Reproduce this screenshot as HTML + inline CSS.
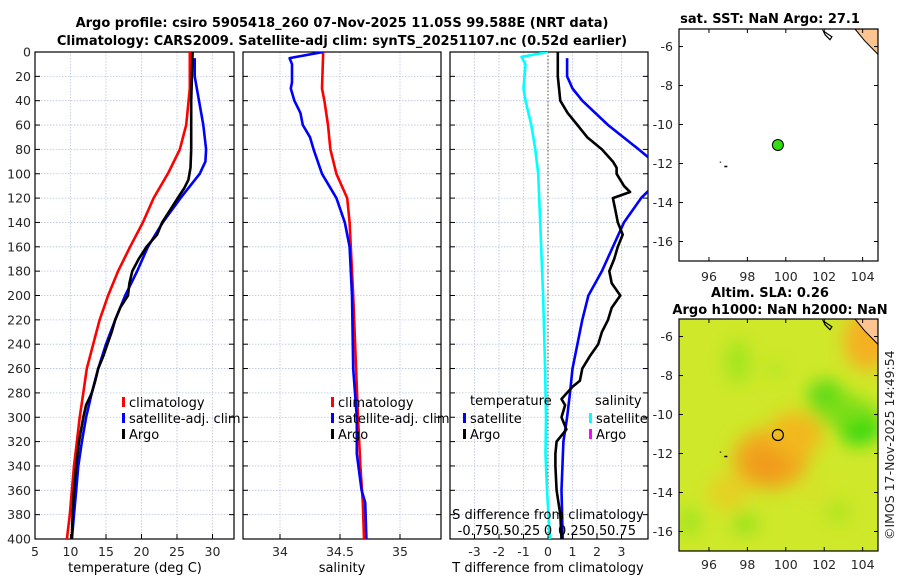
<!DOCTYPE html>
<html><head><meta charset="utf-8">
<style>
html,body{margin:0;padding:0;background:#fff;}
svg{display:block;font-family:"DejaVu Sans","Liberation Sans",sans-serif;}
.tk{font-size:12.5px;fill:#262626;}
.ttl{font-size:13px;font-weight:bold;fill:#000;}
.lg{font-size:13px;fill:#000;}
</style></head>
<body>
<svg id="fig" width="900" height="580" viewBox="0 0 900 580" xmlns="http://www.w3.org/2000/svg">
<text class="ttl" x="342" y="27" text-anchor="middle">Argo profile: csiro 5905418_260 07-Nov-2025 11.05S 99.588E (NRT data)</text>
<text class="ttl" x="342" y="45" text-anchor="middle">Climatology: CARS2009. Satellite-adj clim: synTS_20251107.nc (0.52d earlier)</text>
<g id="maps"></g>
<g id="plots"></g>
<text class="tk" transform="translate(894,540) rotate(-90)">©IMOS 17-Nov-2025 14:49:54</text>
</svg>
<script>
// ---------- data ----------
const depthAxisTicks = [0,20,40,60,80,100,120,140,160,180,200,220,240,260,280,300,320,340,360,380,400];
const tempTicks = [5,10,15,20,25,30];
const salTicks = [34,34.5,35];
const tdiffTicks = [-3,-2,-1,0,1,2,3];
const sdiffTickLabels = ["-0.75","-0.5","-0.25","0","0.25","0.5","0.75"];
const sdiffTicks = [-0.75,-0.5,-0.25,0,0.25,0.5,0.75];

const climDepth = [0,30,60,80,99,120,140,160,180,200,220,240,260,280,300,320,340,360,380,400];
const climTemp  = [26.8,26.8,26.3,25.4,23.8,21.7,20.2,18.4,16.7,15.3,14.1,13.2,12.3,11.8,11.3,10.9,10.5,10.2,9.9,9.5];

const satDepth = [5,20,40,60,80,90,100,120,140,160,180,200,220,240,260,280,300,320,340,360,380,400];
const satTemp  = [27.5,27.5,28.1,28.7,29.1,29.0,28.2,25.5,23.0,20.9,19.4,17.7,16.3,15.0,13.9,13.0,12.2,11.6,11.1,10.8,10.5,10.2];

const argoDepth = [0,20,40,60,80,95,105,112,120,130,140,150,160,170,180,190,200,210,220,230,240,250,260,270,280,290,300,320,340,360,380,400];
const argoTemp  = [27.2,27.1,27.0,27.0,27.0,26.9,26.6,26.0,25.1,24.0,22.9,22.2,20.7,19.6,18.7,18.3,18.1,17.0,16.3,15.8,15.2,14.6,13.9,13.5,13.0,12.2,11.8,11.2,10.8,10.5,10.3,10.2];

const climSalDepth = [0,30,40,60,80,100,120,140,160,200,250,300,340,370,400];
const climSal      = [34.36,34.35,34.37,34.40,34.42,34.47,34.56,34.58,34.59,34.61,34.63,34.65,34.67,34.69,34.70];
const satSalDepth  = [0,5,10,25,30,40,50,60,70,80,100,120,140,160,200,260,300,330,360,370,400];
const satSal       = [34.36,34.08,34.10,34.10,34.09,34.12,34.17,34.19,34.25,34.28,34.35,34.47,34.54,34.58,34.60,34.61,34.64,34.64,34.68,34.71,34.72];

const sdiffDepth = [0,4,10,20,30,40,50,60,80,100,140,200,260,300,330,360,400];
const sdiffSat   = [0,-0.27,-0.23,-0.24,-0.25,-0.23,-0.20,-0.17,-0.13,-0.10,-0.08,-0.05,-0.03,-0.02,-0.025,-0.01,0.02];

const tdiffSatDepth = [5,20,30,40,60,80,90,100,110,120,140,160,180,200,220,240,260,280,300,320,360,400];
const tdiffSat      = [0.78,0.78,1.0,1.4,2.45,3.7,4.3,4.4,4.3,3.8,3.1,2.65,2.2,1.65,1.4,1.2,1.0,0.9,0.78,0.63,0.55,0.6];

const tdiffArgoDepth = [0,20,40,50,60,70,80,90,95,100,110,115,120,130,140,150,160,170,180,190,200,210,220,230,240,250,260,270,275,285,290,300,310,320,330,340,360,380,400];
const tdiffArgo      = [0.4,0.4,0.5,0.8,1.2,1.6,2.2,2.65,2.8,2.8,3.1,3.35,2.65,2.75,2.85,3.05,2.85,2.7,2.5,2.6,2.95,2.6,2.45,2.2,2.05,1.7,1.4,1.3,1.0,0.55,0.7,0.55,0.75,0.35,0.3,0.3,0.35,0.5,0.55];

const lonTicks = [96,98,100,102,104];
const latTicks = [-6,-8,-10,-12,-14,-16];
const argoLon = 99.588, argoLat = -11.05;

// ---------- helpers ----------
const NS = "http://www.w3.org/2000/svg";
function mk(tag, attrs, parent){const e=document.createElementNS(NS,tag);for(const k in attrs)e.setAttribute(k,attrs[k]);parent.appendChild(e);return e;}
const plots = document.getElementById('plots');
const maps = document.getElementById('maps');
const Y0=52, Y1=539;
const dY = d => Y0 + d*(Y1-Y0)/400;

function panel(id, x0, x1, xmin, xmax, xticks, xlabels, ylabelsOn){
  const g = mk('g',{},plots);
  
  
  const sx = v => x0 + (v-xmin)*(x1-x0)/(xmax-xmin);
  const clipId = id+'-clip';
  const cp = mk('clipPath',{id:clipId},g);
  mk('rect',{x:x0,y:Y0,width:x1-x0,height:Y1-Y0},cp);
  // grid
  xticks.forEach(t=>{
    const l = mk('line',{x1:sx(t),x2:sx(t),y1:Y0,y2:Y1,stroke:'#b8c4e0','stroke-width':0.8,'stroke-dasharray':'1.5,1.5'},g);
    
    
  });
  depthAxisTicks.forEach(d=>{
    const l = mk('line',{x1:x0,x2:x1,y1:dY(d),y2:dY(d),stroke:'#b8c4e0','stroke-width':0.8,'stroke-dasharray':'1.5,1.5'},g);
    
    
    const t1 = mk('line',{x1:x0,x2:x0+5,y1:dY(d),y2:dY(d),stroke:'#000'},g);
    
    
    const t2 = mk('line',{x1:x1-5,x2:x1,y1:dY(d),y2:dY(d),stroke:'#000'},g);
    
    
    if(ylabelsOn){
      const tx = mk('text',{x:x0-4,y:dY(d)+4.5,'text-anchor':'end',class:'tk'},g);
      tx.textContent = d;
      
      
    }
  });
  xticks.forEach((t,i)=>{
    const tm = mk('line',{x1:sx(t),x2:sx(t),y1:Y1-5,y2:Y1,stroke:'#000'},g);
    
    
    const tx = mk('text',{x:sx(t),y:556,'text-anchor':'middle',class:'tk'},g);
    tx.textContent = xlabels[i];
    
    
  });
  const fr = mk('rect',{x:x0,y:Y0,width:x1-x0,height:Y1-Y0,fill:'none',stroke:'#000','stroke-width':1.2},g);
  
  
  return {g, sx, clip:'url(#'+clipId+')'};
}
function series(P, depths, vals, color, name, sxf){
  const f = sxf || P.sx;
  const pts = depths.map((d,i)=>f(vals[i]).toFixed(1)+','+dY(d).toFixed(1)).join(' ');
  const pl = mk('polyline',{points:pts,fill:'none',stroke:color,'stroke-width':2.6,'stroke-linejoin':'round','clip-path':P.clip},P.g);
  
  
}
function legend(g, x, y, color, label, name){
  const b = mk('rect',{x:x,y:y-8,width:3,height:10,fill:color},g);
  
  
  const t = mk('text',{x:x+7,y:y+2,class:'lg'},g);
  t.textContent = label;
  
  
}
function xlabel(text, x, name){
  const t = mk('text',{x:x,y:572,'text-anchor':'middle',class:'lg'},plots);
  t.textContent = text;
  
  
}

// ---------- panel 1: temperature ----------
const P1 = panel('temperature', 35, 234, 5, 5+199/7.1, tempTicks, tempTicks, true);
series(P1, climDepth, climTemp, '#ff0000', 'climatology-temperature-line');
series(P1, satDepth, satTemp, '#0000ff', 'satellite-temperature-line');
series(P1, argoDepth, argoTemp, '#000000', 'argo-temperature-line');
legend(P1.g, 122, 405, '#ff0000', 'climatology', 'legend-climatology');
legend(P1.g, 122, 421, '#0000ff', 'satellite-adj. clim', 'legend-satellite');
legend(P1.g, 122, 437, '#000000', 'Argo', 'legend-argo');
xlabel('temperature (deg C)', 135, 'temperature-x-axis-title');

// ---------- panel 2: salinity ----------
const P2 = panel('salinity', 243, 441, 34-37/120, 34+161/120, salTicks, ['34','34.5','35'], false);
series(P2, climSalDepth, climSal, '#ff0000', 'climatology-salinity-line');
series(P2, satSalDepth, satSal, '#0000ff', 'satellite-salinity-line');
legend(P2.g, 331, 405, '#ff0000', 'climatology', 'legend-climatology-sal');
legend(P2.g, 331, 421, '#0000ff', 'satellite-adj. clim', 'legend-satellite-sal');
legend(P2.g, 331, 437, '#000000', 'Argo', 'legend-argo-sal');
xlabel('salinity', 342, 'salinity-x-axis-title');

// ---------- panel 3: differences ----------
const P3 = panel('difference', 450, 648, -98/24.5, 100/24.5, tdiffTicks, tdiffTicks, false);
const sxS = v => 548 + v*98;
const zl = mk('line',{x1:548,x2:548,y1:Y0,y2:Y1,stroke:'#6b4a2a','stroke-width':1,'stroke-dasharray':'1.5,2'},P3.g);


series(P3, sdiffDepth, sdiffSat, '#00ffff', 'salinity-satellite-diff-line', sxS);
series(P3, tdiffSatDepth, tdiffSat, '#0000ff', 'temperature-satellite-diff-line');
series(P3, tdiffArgoDepth, tdiffArgo, '#000000', 'temperature-argo-diff-line');
const lt1 = mk('text',{x:470,y:405,class:'lg'},P3.g);
lt1.textContent='temperature';


const lt2 = mk('text',{x:595,y:405,class:'lg'},P3.g);
lt2.textContent='salinity';


legend(P3.g, 463, 421, '#0000ff', 'satellite', 'legend-t-satellite');
legend(P3.g, 463, 437, '#000000', 'Argo', 'legend-t-argo');
legend(P3.g, 589, 421, '#00ffff', 'satellite', 'legend-s-satellite');
legend(P3.g, 589, 437, '#ff00ff', 'Argo', 'legend-s-argo');
const st = mk('text',{x:548,y:519,'text-anchor':'middle',class:'lg'},P3.g);
st.textContent='S difference from climatology';


sdiffTicks.forEach((v,i)=>{
  const t = mk('text',{x:sxS(v),y:535,'text-anchor':'middle',class:'lg'},P3.g);
  t.textContent = sdiffTickLabels[i];
  
  
});
xlabel('T difference from climatology', 548, 't-diff-x-axis-title');

// ---------- maps ----------
const MX0=679, MX1=878, LON0=94.44, LON1=104.8;
const mx = lon => MX0 + (lon-LON0)*(MX1-MX0)/(LON1-LON0);
function mapAxes(name, top, bottom, title, labelY){
  const g = mk('g',{},maps);
  
  
  const LAT0=-5.1, LAT1=-17.0;
  const my = lat => top + (lat-LAT0)*(bottom-top)/(LAT1-LAT0);
  return {g, my, top, bottom};
}
function mapFrame(M, labelY){
  const g=M.g;
  lonTicks.forEach(l=>{
    const a = mk('line',{x1:mx(l),x2:mx(l),y1:M.bottom-4,y2:M.bottom,stroke:'#000'},g);
    
    
    const b = mk('line',{x1:mx(l),x2:mx(l),y1:M.top,y2:M.top+4,stroke:'#000'},g);
    
    
    const t = mk('text',{x:mx(l),y:labelY,'text-anchor':'middle',class:'tk'},g);
    t.textContent = l;
    
    
  });
  latTicks.forEach(l=>{
    const a = mk('line',{x1:MX0,x2:MX0+4,y1:M.my(l),y2:M.my(l),stroke:'#000'},g);
    
    
    const b = mk('line',{x1:MX1-4,x2:MX1,y1:M.my(l),y2:M.my(l),stroke:'#000'},g);
    
    
    const t = mk('text',{x:MX0-6,y:M.my(l)+4.5,'text-anchor':'end',class:'tk'},g);
    t.textContent = l;
    
    
  });
  const fr = mk('rect',{x:MX0,y:M.top,width:MX1-MX0,height:M.bottom-M.top,fill:'none',stroke:'#000','stroke-width':1.2},g);
  
  
}
function coast(M){
  const g=M.g;
  const land = mk('path',{d:`M${mx(103.6)},${M.top} L${MX1},${M.top} L${MX1},${M.my(-6.4)} L${mx(104.5)},${M.my(-6.1)} L${mx(104.1)},${M.my(-5.7)} Z`,fill:'#fbc490',stroke:'#000','stroke-width':1},g);
  
  
  const isl = mk('path',{d:`M${mx(101.95)},${M.my(-5.2)} L${mx(102.4)},${M.my(-5.5)} L${mx(102.3)},${M.my(-5.65)} L${mx(102.05)},${M.my(-5.4)} Z`,fill:'none',stroke:'#000','stroke-width':1.2},g);
  
  
  const ck = mk('path',{d:`M${mx(96.6)},${M.my(-11.9)} l0,1 M${mx(96.8)},${M.my(-12.15)} l3,0`,stroke:'#000','stroke-width':1.5},g);
  
  
}
// map 1: SST
const M1 = mapAxes('sst-map', 29, 261);
const t1 = mk('text',{x:770,y:23,'text-anchor':'middle',class:'ttl'},M1.g);
t1.textContent='sat. SST: NaN Argo: 27.1';


coast(M1);
const dot = mk('circle',{cx:mx(argoLon),cy:M1.my(argoLat),r:5.5,fill:'#33dd11',stroke:'#000','stroke-width':1},M1.g);


mapFrame(M1, 281);

// map 2: SLA
const M2 = mapAxes('sla-map', 319, 551);
const t2a = mk('text',{x:770,y:297,'text-anchor':'middle',class:'ttl'},M2.g);
t2a.textContent='Altim. SLA: 0.26';


const t2b = mk('text',{x:780,y:314,'text-anchor':'middle',class:'ttl'},M2.g);
t2b.textContent='Argo h1000: NaN h2000: NaN';


const cp2 = mk('clipPath',{id:'m2clip'},M2.g);
mk('rect',{x:MX0,y:319,width:MX1-MX0,height:232},cp2);
const flt = mk('filter',{id:'blur',x:'-50%',y:'-50%',width:'200%',height:'200%'},M2.g);
mk('feGaussianBlur',{stdDeviation:9},flt);
const field = mk('g',{'clip-path':'url(#m2clip)'},M2.g);


mk('rect',{x:MX0,y:319,width:MX1-MX0,height:232,fill:'#cfe82a'},field);
const blobs = mk('g',{filter:'url(#blur)'},field);
[[99.2,-12.3,38,30,'#f2a81c'],[99.0,-12.6,20,16,'#f09a1a'],[100.5,-11,28,22,'#f2b81e'],[104.3,-6.2,25,30,'#f5b020'],[97,-14,20,18,'#e6d020'],
 [97.5,-7.3,12,22,'#9ee61a'],[99.4,-7.7,8,8,'#a8e61c'],[102.1,-9.1,18,16,'#4ad812'],[103.8,-10.5,22,20,'#22d810'],[103,-9.8,30,15,'#7ade16'],
 [95,-15.5,10,14,'#98e41a'],[97.9,-15.6,12,10,'#8ae01a'],[102.7,-15.0,11,10,'#a6e41c'],[101.5,-14,14,10,'#d8e028']].forEach(b=>{
  mk('ellipse',{cx:mx(b[0]),cy:M2.my(b[1]),rx:b[2],ry:b[3],fill:b[4]},blobs);
});
coast(M2);
const ring = mk('circle',{cx:mx(argoLon),cy:M2.my(argoLat),r:5.5,fill:'none',stroke:'#000','stroke-width':1.2},M2.g);


mapFrame(M2, 569);
</script>
</body></html>
